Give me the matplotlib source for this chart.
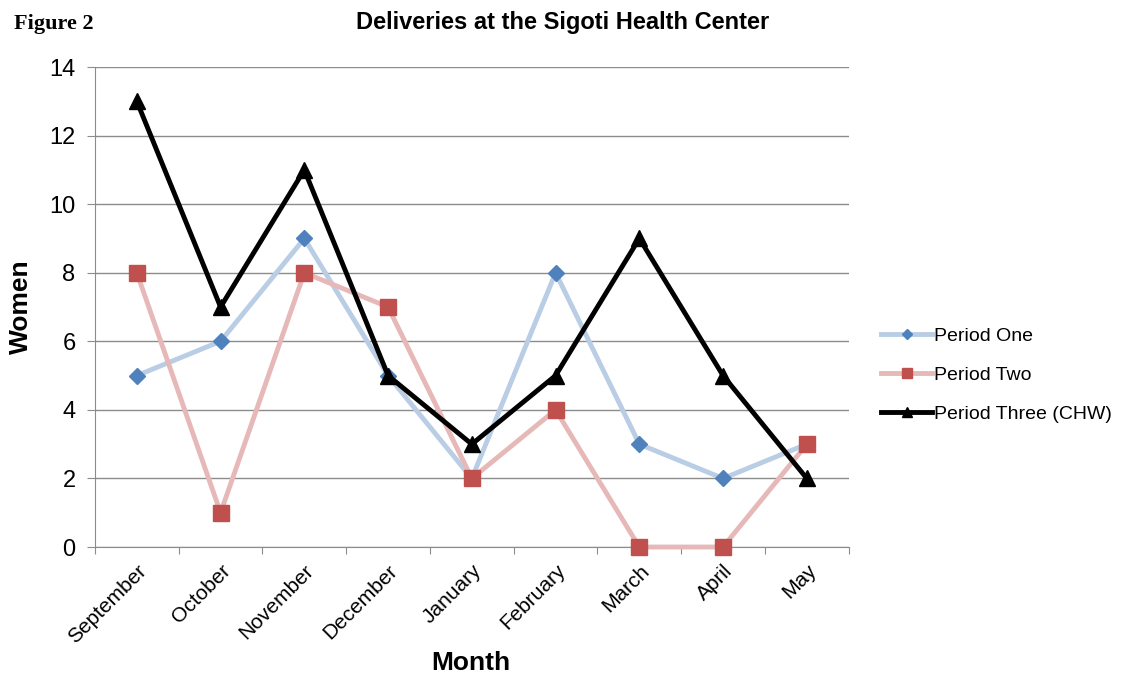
import matplotlib.pyplot as plt

months = ['September', 'October', 'November', 'December', 'January',
          'February', 'March', 'April', 'May']
period_one = [5, 6, 9, 5, 2, 8, 3, 2, 3]
period_two = [8, 1, 8, 7, 2, 4, 0, 0, 3]
period_three = [13, 7, 11, 5, 3, 5, 9, 5, 2]

plt.rcParams['font.family'] = ['Liberation Sans', 'DejaVu Sans']

fig = plt.figure(figsize=(11.25, 6.77), dpi=100)
ax = fig.add_axes([0.0844, 0.192, 0.670, 0.709])

x = list(range(len(months)))
ax.plot(x, period_one, color='#b9cde5', lw=3.5, marker='D', ms=8.5,
        mfc='#4f81bd', mec='#4f81bd', label='Period One', zorder=3,
        clip_on=False)
ax.plot(x, period_two, color='#e6b9b8', lw=3.5, marker='s', ms=12,
        mfc='#c0504d', mec='#c0504d', label='Period Two', zorder=3,
        clip_on=False)
ax.plot(x, period_three, color='black', lw=3.5, marker='^', ms=12,
        mfc='black', mec='black', label='Period Three (CHW)', zorder=4,
        clip_on=False)

ax.set_xlim(-0.5, len(months) - 0.5)
ax.set_ylim(0, 14)
ax.set_yticks(range(0, 15, 2))
ax.yaxis.grid(True, color='#8c8c8c', lw=1)
ax.set_axisbelow(True)

ax.set_xticks([i - 0.5 for i in range(len(months) + 1)])
ax.set_xticklabels([])
ax.set_xticks(x, minor=True)
ax.set_xticklabels(months, minor=True, rotation=45, ha='right',
                   rotation_mode='anchor', fontsize=15)
ax.tick_params(axis='x', which='minor', length=0, pad=10)
ax.tick_params(axis='x', which='major', length=5, color='#8c8c8c')
ax.tick_params(axis='y', labelsize=17, length=6, color='#8c8c8c', pad=8)

for s in ['top', 'right']:
    ax.spines[s].set_visible(False)
for s in ['left', 'bottom']:
    ax.spines[s].set_color('#8c8c8c')

ax.set_xlabel('Month', fontsize=19, fontweight='bold', va='center')
ax.xaxis.set_label_coords(0.498, -0.242)
ax.set_ylabel('Women', fontsize=19, fontweight='bold', labelpad=12)

fig.text(0.5, 0.967, 'Deliveries at the Sigoti Health Center', ha='center',
         va='center', fontsize=17, fontweight='bold')
fig.text(0.012, 0.965, 'Figure 2', ha='left', va='center', fontsize=16,
         fontweight='bold', family='Liberation Serif')

ax.legend(loc='center left', bbox_to_anchor=(1.02, 0.358), frameon=False,
          fontsize=14, handlelength=2.6, handletextpad=0.1,
          labelspacing=1.1, markerscale=0.6)

fig.savefig('out.png', dpi=100)
